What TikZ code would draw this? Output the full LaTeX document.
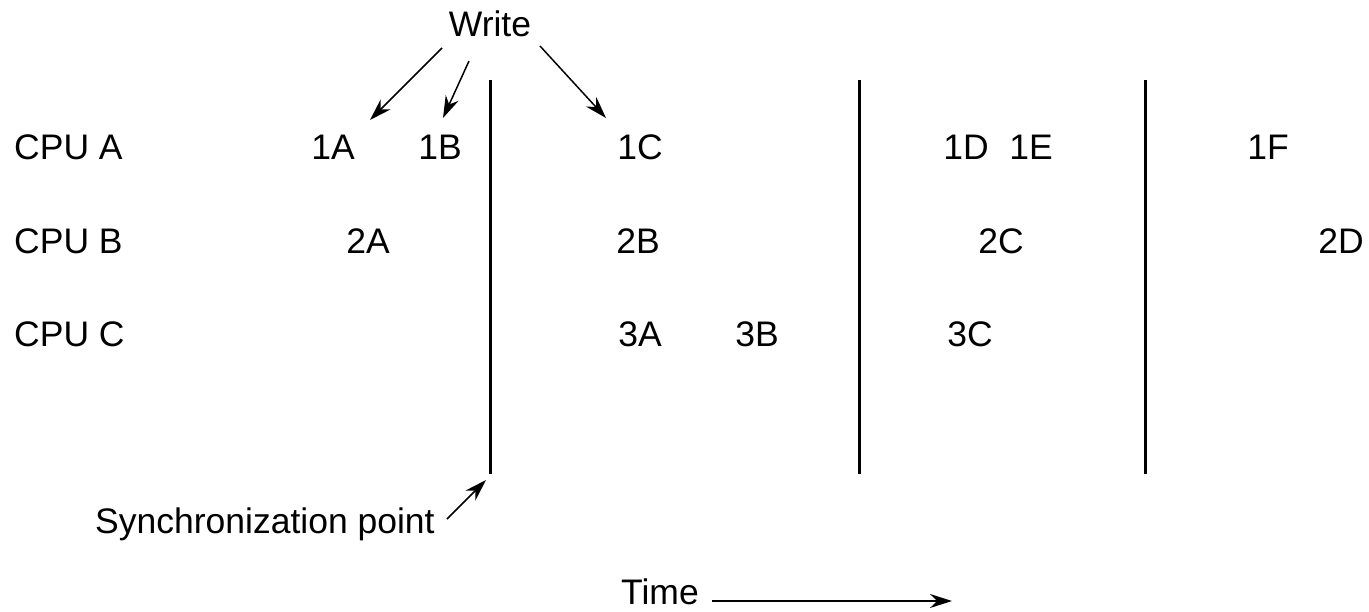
\documentclass[tikz,border=0pt]{standalone}
\usepackage{fontspec}
\setmainfont{Liberation Sans}
\usetikzlibrary{arrows.meta}
\begin{document}
\begin{tikzpicture}[x=1pt,y=-1pt,
  lbl/.style={inner sep=0pt,anchor=base,font=\fontsize{35.5}{40}\selectfont},
  sync/.style={line width=3pt},
  arr/.style={line width=1.5pt,-{Stealth[length=22pt,width=14pt]}}]
\useasboundingbox (0,0) rectangle (1369,611);
% labels
\node[lbl] (write) at (490,36) {Write};
\node[lbl,anchor=base west] (cpua) at (14,159) {CPU A};
\node[lbl,anchor=base west] (cpub) at (14,253) {CPU B};
\node[lbl,anchor=base west] (cpuc) at (14,346) {CPU C};
\node[lbl] (n1A) at (333,159) {1A};
\node[lbl] (n1B) at (440,159) {1B};
\node[lbl] (n1C) at (640,159) {1C};
\node[lbl] (n1D) at (966,159) {1D};
\node[lbl] (n1E) at (1031,159) {1E};
\node[lbl] (n1F) at (1268,159) {1F};
\node[lbl] (n2A) at (368,253) {2A};
\node[lbl] (n2B) at (638,253) {2B};
\node[lbl] (n2C) at (1001,253) {2C};
\node[lbl] (n2D) at (1341,253) {2D};
\node[lbl] (n3A) at (640,346) {3A};
\node[lbl] (n3B) at (757,346) {3B};
\node[lbl] (n3C) at (970,346) {3C};
\node[lbl,anchor=base west] (syncl) at (95,533) {Synchronization point};
\node[lbl,anchor=base west] (time) at (621,604) {Time};
% synchronization lines
\coordinate (s1t) at (490,80); \coordinate (s1b) at (490,474);
\coordinate (s2t) at (859,80); \coordinate (s2b) at (859,474);
\coordinate (s3t) at (1145,80); \coordinate (s3b) at (1145,474);
\draw[sync] (s1t) -- (s1b);
\draw[sync] (s2t) -- (s2b);
\draw[sync] (s3t) -- (s3b);
% write arrows
\coordinate (w1s) at (442,48); \coordinate (w1e) at (370,120);
\coordinate (w2s) at (469,61); \coordinate (w2e) at (443,118);
\coordinate (w3s) at (540,46); \coordinate (w3e) at (606,118);
\draw[arr] (w1s) -- (w1e);
\draw[arr] (w2s) -- (w2e);
\draw[arr] (w3s) -- (w3e);
% sync arrow
\coordinate (sas) at (447,519); \coordinate (sae) at (486,480);
\draw[arr] (sas) -- (sae);
% time arrow
\coordinate (tas) at (712,601); \coordinate (tae) at (952,601);
\draw[arr] (tas) -- (tae);
\end{tikzpicture}
\end{document}
